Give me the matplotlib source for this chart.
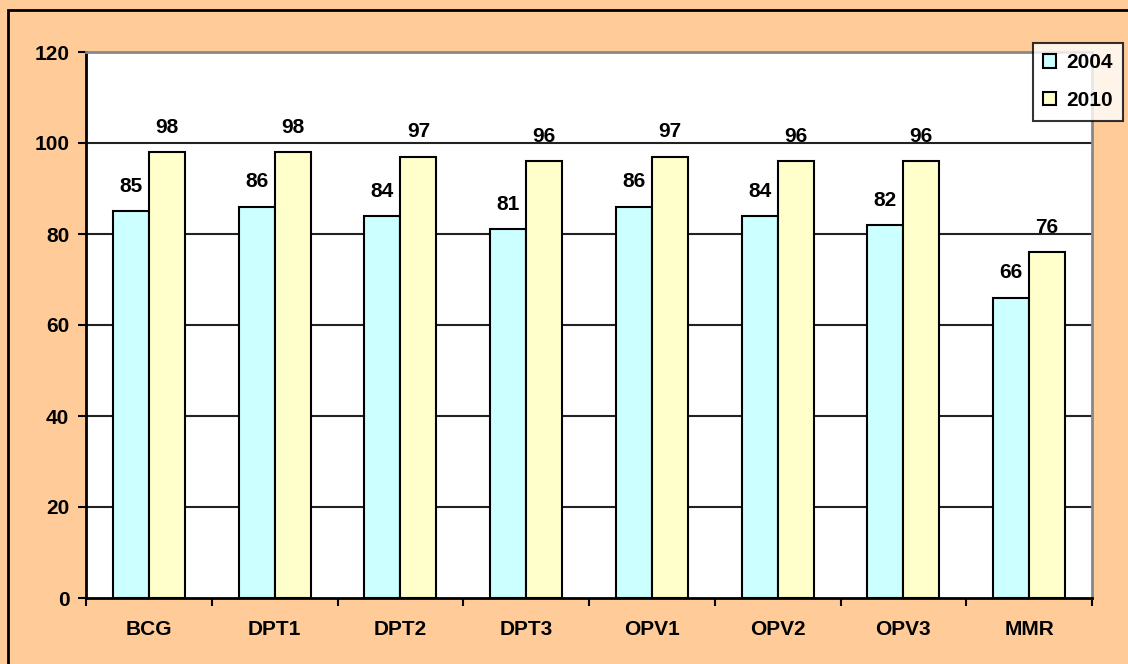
import matplotlib.pyplot as plt
import numpy as np
from matplotlib.patches import Rectangle

categories = ["BCG", "DPT1", "DPT2", "DPT3", "OPV1", "OPV2", "OPV3", "MMR"]
values_2004 = [85, 86, 84, 81, 86, 84, 82, 66]
values_2010 = [98, 98, 97, 96, 97, 96, 96, 76]
series_labels = ["2004", "2010"]
y_ticks = [0, 20, 40, 60, 80, 100, 120]

W, H = 1128, 664
FS = 15
plt.rcParams["font.family"] = ["Liberation Sans", "DejaVu Sans"]
plt.rcParams["font.weight"] = "bold"

fig = plt.figure(figsize=(W / 100, H / 100), dpi=100)
fig.patch.set_facecolor("#FFCC99")

# outer border (only top/left visible in the reference)
fig.patches.append(Rectangle((8 / W, -0.1), 1.2, (H - 10) / H + 0.1,
                             transform=fig.transFigure, fill=False,
                             edgecolor="black", linewidth=2))

left, right, top, bottom = 86, 1092, 52, 598
ax = fig.add_axes([left / W, 1 - bottom / H, (right - left) / W, (bottom - top) / H])
ax.set_facecolor("white")

x = np.arange(len(categories))
bw = 0.286
b1 = ax.bar(x - bw / 2, values_2004, bw, color="#CCFFFF", edgecolor="black",
            linewidth=1.5, label=series_labels[0], zorder=3)
b2 = ax.bar(x + bw / 2, values_2010, bw, color="#FFFFCC", edgecolor="black",
            linewidth=1.5, label=series_labels[1], zorder=3)
for bars in (b1, b2):
    ax.bar_label(bars, padding=11, fontsize=FS, fontweight="bold")

ax.set_xlim(-0.5, len(categories) - 0.5)
ax.set_ylim(0, 120)
ax.set_yticks(y_ticks)
ax.set_yticklabels([str(t) for t in y_ticks], fontsize=FS, fontweight="bold")
ax.set_xticks(x)
ax.set_xticklabels(categories, fontsize=FS, fontweight="bold")
ax.tick_params(axis="x", length=0, pad=16)
ax.set_xticks(np.arange(len(categories) + 1) - 0.5, minor=True)
ax.tick_params(axis="x", which="minor", length=6, width=1.5, direction="out")
ax.tick_params(axis="y", length=6, width=1.5, direction="out", pad=6)

for y in y_ticks[1:-1]:
    ax.axhline(y, color="#222222", linewidth=1.5, zorder=1)

for s in ("left", "bottom"):
    ax.spines[s].set_color("black")
    ax.spines[s].set_linewidth(2)
for s in ("top", "right"):
    ax.spines[s].set_color("#888888")
    ax.spines[s].set_linewidth(2)

leg = ax.legend(loc="upper left", bbox_to_anchor=(1033 / W, 1 - 43 / H),
                bbox_transform=fig.transFigure, frameon=True, fancybox=False,
                edgecolor="black", handlelength=0.6, handleheight=0.6,
                handletextpad=0.5, labelspacing=0.9, borderpad=0.5,
                borderaxespad=0, prop={"weight": "bold", "size": FS})
leg.get_frame().set_linewidth(1.5)

fig.savefig("out.png", dpi=100, facecolor=fig.get_facecolor())
